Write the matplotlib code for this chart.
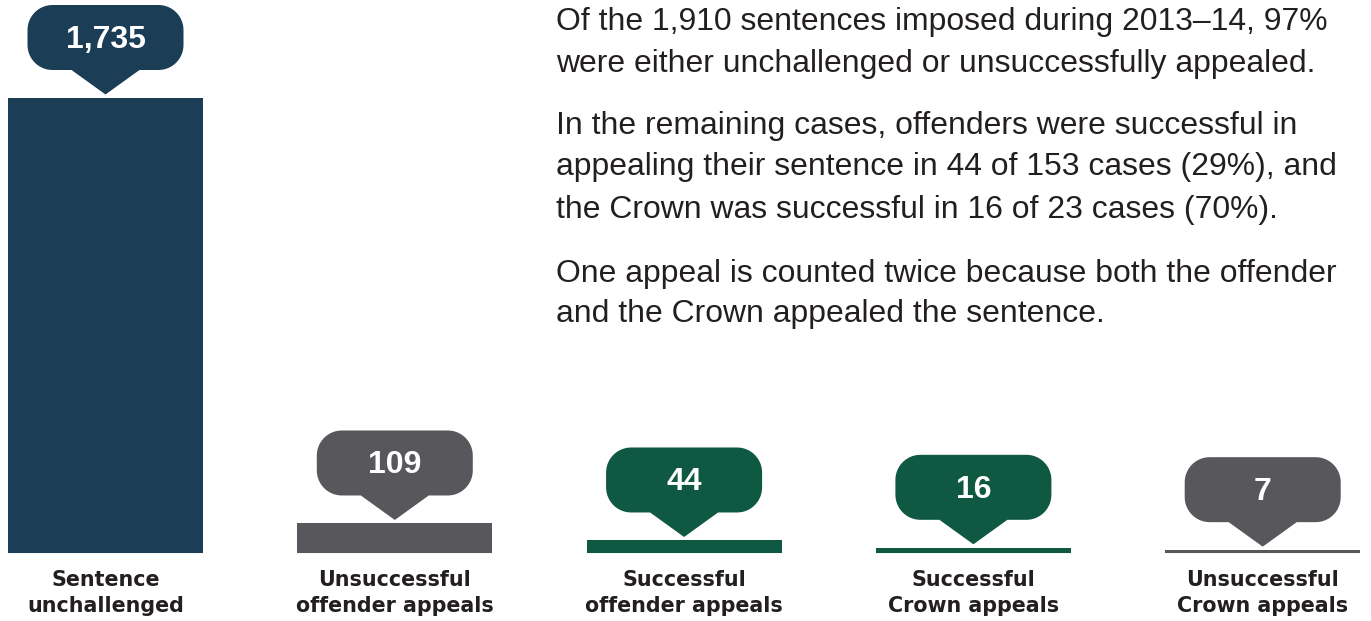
import numpy as np
import matplotlib
matplotlib.use("Agg")
import matplotlib.pyplot as plt
import matplotlib.transforms as mtransforms
from matplotlib.patches import Polygon

# ---- data ----
categories = ["Sentence\nunchallenged", "Unsuccessful\noffender appeals",
              "Successful\noffender appeals", "Successful\nCrown appeals",
              "Unsuccessful\nCrown appeals"]
values = [1735, 109, 44, 16, 7]
value_labels = ["1,735", "109", "44", "16", "7"]
colors = ["#1c3d56", "#58585c", "#0f5842", "#0f5842", "#58585c"]

paragraphs = [
    ["Of the 1,910 sentences imposed during 2013\u201314, 97%",
     "were either unchallenged or unsuccessfully appealed."],
    ["In the remaining cases, offenders were successful in",
     "appealing their sentence in 44 of 153 cases (29%), and",
     "the Crown was successful in 16 of 23 cases (70%)."],
    ["One appeal is counted twice because both the offender",
     "and the Crown appealed the sentence."],
]

W, H = 1371, 621
DPI = 100
fig = plt.figure(figsize=(W / DPI, H / DPI), dpi=DPI)
fig.patch.set_facecolor("white")
renderer = fig.canvas.get_renderer()

def fit_size(text, target_px, family, weight="normal", base=20):
    t = fig.text(0, 0, text, fontsize=base, family=family, fontweight=weight)
    w = t.get_window_extent(renderer=renderer).width
    t.remove()
    return base * target_px / w

base_px = 552
scale = 454 / 1735.0
ax = fig.add_axes([0, 0, 1, 1])
ax.set_xlim(0, W)
ax.set_ylim(-(H - base_px) / scale, base_px / scale)
ax.axis("off")

x_centers = [105.5 + i * 289.3 for i in range(len(values))]
bar_w = 195
ax.bar(x_centers, values, width=bar_w, color=colors, bottom=0, zorder=2)
for xc, c in zip(x_centers, colors):
    ax.plot([xc - bar_w / 2, xc + bar_w / 2], [0, 0], color=c, lw=1.5,
            solid_capstyle="butt", zorder=2)

def callout_shape(w, h, r, ybot, tri_half, tip_y, n=16):
    pts = []
    x0, x1 = -w / 2, w / 2
    y0, y1 = ybot, ybot + h
    pts += [(x0 + r, y0), (-tri_half, y0), (0, tip_y), (tri_half, y0), (x1 - r, y0)]
    for cx, cy, a0 in [(x1 - r, y0 + r, -90), (x1 - r, y1 - r, 0),
                       (x0 + r, y1 - r, 90), (x0 + r, y0 + r, 180)]:
        for a in np.linspace(np.radians(a0), np.radians(a0 + 90), n):
            pts.append((cx + r * np.cos(a), cy + r * np.sin(a)))
    return pts

box_w, box_h, rad = 156, 65, 25
tri_h, tri_half = 24.5, 34
num_size = 23
for xc, v, lab, c in zip(x_centers, values, value_labels, colors):
    tr = mtransforms.Affine2D() + mtransforms.ScaledTranslation(xc, v, ax.transData)
    tip_y = 3.5
    ybot = tip_y + tri_h
    poly = Polygon(callout_shape(box_w, box_h, rad, ybot, tri_half, tip_y),
                   closed=True, transform=tr, facecolor=c, edgecolor="none", zorder=3)
    ax.add_patch(poly)
    ttr = mtransforms.offset_copy(ax.transData, fig=fig, x=0,
                                  y=(ybot + box_h / 2 - 10.5) * 72 / DPI, units="points")
    ax.text(xc, v, lab, transform=ttr, ha="center", va="baseline",
            color="white", fontsize=num_size, fontweight="bold",
            family="Liberation Sans", zorder=4)

# category labels
lab_family = "DejaVu Sans"
lab_size = fit_size("offender appeals", 198, lab_family, "bold")
for xc, lab in zip(x_centers, categories):
    l1, l2 = lab.split("\n")
    ax.text(xc, (base_px - 586) / scale, l1, ha="center", va="baseline",
            fontsize=lab_size, fontweight="bold", family=lab_family, color="#231f20")
    ax.text(xc, (base_px - 612) / scale, l2, ha="center", va="baseline",
            fontsize=lab_size, fontweight="bold", family=lab_family, color="#231f20")

# paragraph text
txt_family = "Liberation Sans"
txt_size = fit_size(paragraphs[0][0], 772, txt_family)
baselines = [[30, 72], [134, 175, 218], [282, 322]]
for para, bls in zip(paragraphs, baselines):
    for line, bl in zip(para, bls):
        fig.text(556 / W, 1 - bl / H, line, ha="left", va="baseline",
                 fontsize=txt_size, family=txt_family, color="#231f20")

fig.savefig("out.png", dpi=DPI, facecolor="white")
